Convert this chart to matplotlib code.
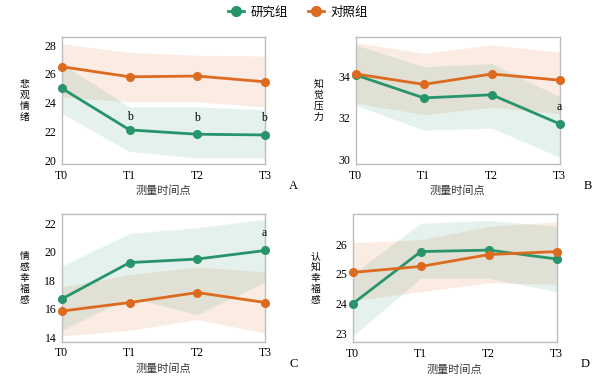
import matplotlib
matplotlib.use("Agg")
import matplotlib.pyplot as plt
from matplotlib.lines import Line2D

plt.rcParams['font.family'] = ['Liberation Serif', 'Noto Sans CJK SC', 'DejaVu Sans']

times = ["T0", "T1", "T2", "T3"]
green = "#27946b"
orange = "#dc6a1f"

# A: 悲观情绪
a_study = [25.0, 22.1, 21.8, 21.75]
a_study_hi = [26.7, 23.7, 23.7, 23.5]
a_study_lo = [23.25, 20.6, 20.15, 20.15]
a_ctrl = [26.5, 25.8, 25.85, 25.45]
a_ctrl_hi = [28.1, 27.5, 27.3, 27.25]
a_ctrl_lo = [24.4, 24.05, 24.05, 23.7]

# B: 知觉压力
b_study = [34.05, 32.95, 33.1, 31.7]
b_study_hi = [35.5, 34.45, 34.6, 33.0]
b_study_lo = [32.6, 31.4, 31.5, 30.1]
b_ctrl = [34.1, 33.6, 34.1, 33.8]
b_ctrl_hi = [35.6, 35.1, 35.5, 35.15]
b_ctrl_lo = [32.7, 32.15, 32.5, 32.2]

# C: 情感幸福感
c_study = [16.7, 19.25, 19.5, 20.1]
c_study_hi = [19.0, 21.3, 21.7, 22.3]
c_study_lo = [14.5, 16.8, 15.6, 17.9]
c_ctrl = [15.85, 16.45, 17.15, 16.45]
c_ctrl_hi = [17.55, 18.4, 18.95, 18.6]
c_ctrl_lo = [14.1, 14.5, 15.25, 14.3]

# D: 认知幸福感
d_study = [24.0, 25.75, 25.8, 25.5]
d_study_hi = [25.0, 26.7, 26.8, 26.6]
d_study_lo = [22.9, 24.85, 24.85, 24.4]
d_ctrl = [25.05, 25.25, 25.65, 25.75]
d_ctrl_hi = [26.05, 26.15, 26.6, 26.75]
d_ctrl_lo = [24.1, 24.4, 24.7, 24.65]

panels = [
    dict(rect=[0.103, 0.567, 0.339, 0.335], ylim=(19.72, 28.56), yticks=[20, 22, 24, 26, 28],
         ylabel="悲观情绪", letter="A",
         s=(a_study, a_study_lo, a_study_hi), c=(a_ctrl, a_ctrl_lo, a_ctrl_hi),
         marks=[(1, 23.0, "b"), (2, 22.9, "b"), (2.985, 22.9, "b")]),
    dict(rect=[0.593, 0.567, 0.340, 0.335], ylim=(29.77, 35.87), yticks=[30, 32, 34],
         ylabel="知觉压力", letter="B",
         s=(b_study, b_study_lo, b_study_hi), c=(b_ctrl, b_ctrl_lo, b_ctrl_hi),
         marks=[(2.985, 32.5, "a")]),
    dict(rect=[0.103, 0.098, 0.339, 0.337], ylim=(13.69, 22.65), yticks=[14, 16, 18, 20, 22],
         ylabel="情感幸福感", letter="C",
         s=(c_study, c_study_lo, c_study_hi), c=(c_ctrl, c_ctrl_lo, c_ctrl_hi),
         marks=[(2.985, 21.3, "a")]),
    dict(rect=[0.588, 0.097, 0.340, 0.338], ylim=(22.7, 27.01), yticks=[23, 24, 25, 26],
         ylabel="认知幸福感", letter="D",
         s=(d_study, d_study_lo, d_study_hi), c=(d_ctrl, d_ctrl_lo, d_ctrl_hi),
         marks=[]),
]

fig = plt.figure(figsize=(6, 3.79), dpi=100)
x = list(range(len(times)))

for p in panels:
    ax = fig.add_axes(p["rect"])
    for (mean, lo, hi), col in ((p["c"], orange), (p["s"], green)):
        ax.fill_between(x, lo, hi, color=col, alpha=0.12, lw=0)
    for (mean, lo, hi), col in ((p["s"], green), (p["c"], orange)):
        ax.plot(x, mean, color=col, lw=2, marker="o", ms=5.5, clip_on=False, zorder=3)
    for mx, my, txt in p["marks"]:
        ax.text(mx, my, txt, ha="center", va="center", fontsize=8.5)
    ax.set_xlim(0, 3)
    ax.set_ylim(*p["ylim"])
    ax.set_yticks(p["yticks"])
    ax.set_xticks(x)
    ax.set_xticklabels(times)
    ax.tick_params(length=0, labelsize=8.5, pad=4)
    for sp in ax.spines.values():
        sp.set_color("#bdbdbd")
        sp.set_linewidth(1)
    ax.set_xlabel("测量时间点", fontsize=8, labelpad=3, family=['Noto Sans CJK SC'], color="#333333")

    # vertical stacked y label, one character per line
    l, b, w, h = p["rect"]
    n = len(p["ylabel"])
    step = 11 / 379
    yc = b + h / 2
    for i, ch in enumerate(p["ylabel"]):
        fig.text(l - 0.062, yc + (n - 1) / 2 * step - i * step, ch, fontsize=7,
                 family=['Noto Sans CJK SC'], ha="center", va="center")
    fig.text(l + w + 0.047, b - 0.058, p["letter"], fontsize=9, ha="center", va="center")

handles = [Line2D([], [], color=green, lw=2, marker="o", ms=7),
           Line2D([], [], color=orange, lw=2, marker="o", ms=7)]
fig.legend(handles, ["研究组", "对照组"], loc="upper center", bbox_to_anchor=(0.497, 1.015),
           ncol=2, frameon=False, prop={'family': 'Noto Sans CJK SC', 'size': 9},
           handlelength=1.3, columnspacing=1.6, handletextpad=0.5)

fig.savefig("out.png", dpi=100)
